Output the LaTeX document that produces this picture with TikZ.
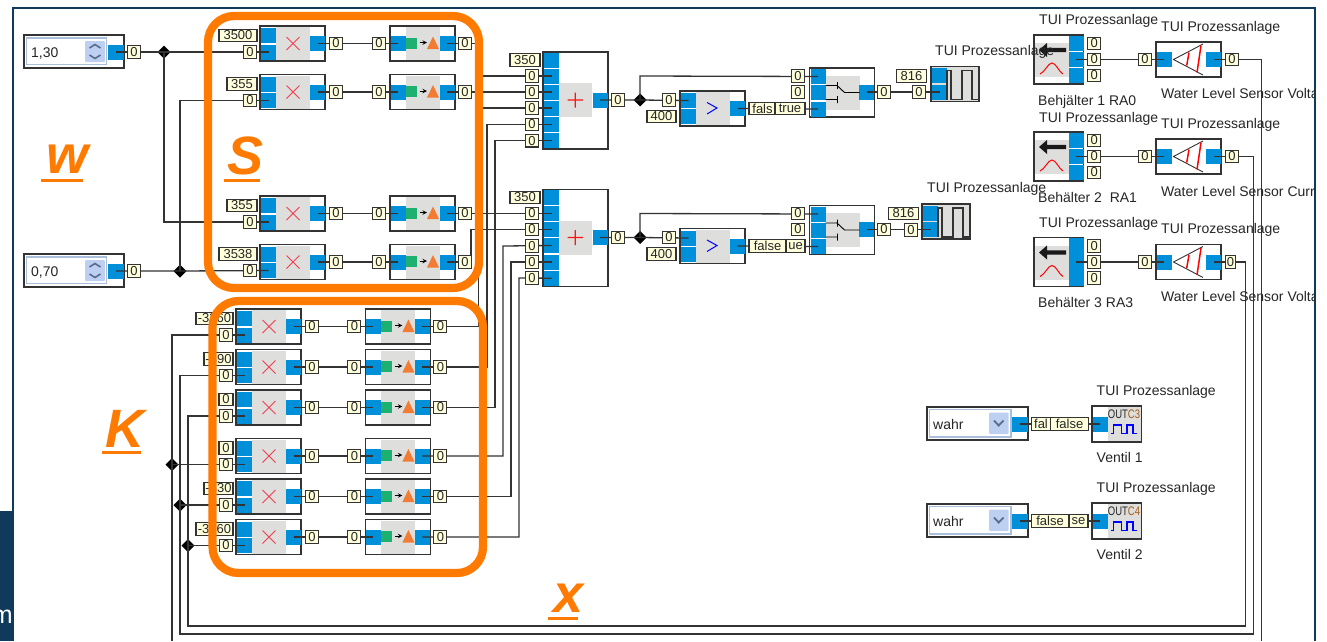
\documentclass[tikz,border=0pt]{standalone}
\usepackage{fontspec}
\setmainfont{Liberation Sans}
\usetikzlibrary{shapes.geometric}
\definecolor{portblue}{HTML}{0090DA}
\definecolor{panel}{HTML}{DEDEDC}
\definecolor{cream}{HTML}{FFFFDC}
\definecolor{inkc}{HTML}{333333}
\definecolor{textc}{HTML}{262626}
\definecolor{framec}{HTML}{0F3A5C}
\definecolor{orangec}{HTML}{FF7A00}
\definecolor{fieldc}{HTML}{A9BFDC}
\definecolor{btnc}{HTML}{BDD0F2}
\definecolor{chevc}{HTML}{5A6C8C}
\definecolor{greenm}{HTML}{1DB071}
\definecolor{trim}{HTML}{F27C34}
\definecolor{redm}{HTML}{F04050}
\definecolor{plusred}{HTML}{FF1414}
\definecolor{brownc}{HTML}{A85A10}
\tikzset{
  wire/.style={draw=inkc,line width=1.3pt},
  boxb/.style={draw=inkc,fill=white,line width=1.3pt,inner sep=0pt,outer sep=0pt,anchor=north west},
  greyb/.style={fill=panel,inner sep=0pt,outer sep=0pt,anchor=north west},
  port/.style={fill=portblue,inner sep=0pt,outer sep=0pt,minimum width=15pt,minimum height=15pt},
  lab/.style={draw=inkc,fill=cream,line width=1.1pt,inner sep=0pt,outer sep=0pt,minimum height=12.5pt,minimum width=13pt,text=textc,font=\fontsize{13}{13}\selectfont},
  captxt/.style={anchor=base west,inner sep=0pt,text=textc,font=\fontsize{14}{16}\selectfont},
  dot/.style={diamond,fill=black,inner sep=0pt,outer sep=0pt,minimum size=13pt},
  grp/.style={draw=orangec,line width=8.2pt,rounded corners=26pt,inner sep=0pt,outer sep=0pt,anchor=north west},
  big/.style={anchor=base west,inner sep=0pt,text=orangec,font=\fontsize{54}{56}\selectfont\bfseries\itshape},
  bar/.style={draw=orangec,line width=3pt},
  sym/.style={draw=redm,line width=1pt}
}
% multiplier
\newcommand{\mulblock}[3]{\begin{scope}[shift={(#2,#3)}]
  \node[boxb,minimum width=65pt,minimum height=35pt] (#1) at (0,0) {};
  \node[greyb,minimum width=34pt,minimum height=33pt] at (16,1) {};
  \node[port] (#1a) at (8.5,9.5) {};
  \node[port] (#1b) at (8.5,26) {};
  \node[port] (#1o) at (57.5,17.5) {};
  \draw[sym] (26.5,11) -- (39.5,24) (26.5,24) -- (39.5,11);
\end{scope}}
\newcommand{\mullabs}[5]{\begin{scope}[shift={(#2,#3)}]
  \node[lab,anchor=east,minimum width=#5pt] (#1av) at (-3,9.5) {#4};
  \node[lab] (#1bv) at (-10,26) {0};
  \node[lab] (#1ov) at (76,17.5) {0};
\end{scope}}
% converter
\newcommand{\convblock}[3]{\begin{scope}[shift={(#2,#3)}]
  \node[boxb,minimum width=65pt,minimum height=35pt] (#1) at (0,0) {};
  \node[greyb,minimum width=34pt,minimum height=33pt] at (16,1) {};
  \node[port] (#1a) at (8,17.5) {};
  \node[port] (#1o) at (57,17.5) {};
  \fill[greenm] (16,11.5) rectangle (26.5,22.5);
  \fill[trim] (37,23) -- (43,10.5) -- (49,23) -- cycle;
  \draw[black,line width=1pt,-stealth] (29.5,16.5) -- (37,16.5);
\end{scope}}
\newcommand{\convlabs}[3]{\begin{scope}[shift={(#2,#3)}]
  \node[lab] (#1iv) at (-11,17.5) {0};
  \node[lab] (#1ov) at (75,17.5) {0};
\end{scope}}
% spinner
\newcommand{\spinner}[4]{\begin{scope}[shift={(#2,#3)}]
  \node[boxb,minimum width=100pt,minimum height=33pt] (#1) at (0,0) {};
  \draw[fieldc,line width=1.3pt,fill=white] (2.5,3) rectangle (82.5,29.5);
  \fill[btnc,rounded corners=1pt] (61,6) rectangle (81,27);
  \draw[chevc,line width=1.6pt] (65.5,13) -- (71,9.5) -- (76.5,13) (65.5,20) -- (71,23.5) -- (76.5,20);
  \node[captxt] at (7,22) {#4};
  \node[port,minimum width=16pt] (#1o) at (92,17) {};
\end{scope}}
% combo box
\newcommand{\combobox}[4]{\begin{scope}[shift={(#2,#3)}]
  \node[boxb,minimum width=101pt,minimum height=33pt] (#1) at (0,0) {};
  \draw[fieldc,line width=1.3pt,fill=white] (2.5,2.5) rectangle (84,30);
  \fill[btnc,rounded corners=1pt] (62,5.5) rectangle (81.5,27);
  \draw[chevc,line width=1.8pt] (67,13.5) -- (71.7,18.5) -- (76.5,13.5);
  \node[captxt] at (6,22) {#4};
  \node[port,minimum width=16pt] (#1o) at (93,17) {};
\end{scope}}
% adder
\newcommand{\adder}[3]{\begin{scope}[shift={(#2,#3)}]
  \node[boxb,minimum width=65pt,minimum height=97pt] (#1) at (0,0) {};
  \node[greyb,minimum width=33pt,minimum height=34pt] at (16,31) {};
  \node[port] (#1p) at (8.5,8) {};
  \node[port] (#1a) at (8.5,24) {};
  \node[port] (#1b) at (8.5,40) {};
  \node[port] (#1c) at (8.5,56) {};
  \node[port] (#1d) at (8.5,72.5) {};
  \node[port] (#1e) at (8.5,88.7) {};
  \node[port] (#1o) at (57,48) {};
  \fill[plusred] (24.5,47.3) rectangle (40,48.7) (31.5,40.5) rectangle (32.9,55.5);
\end{scope}}
% comparator
\newcommand{\cmpblock}[3]{\begin{scope}[shift={(#2,#3)}]
  \node[boxb,minimum width=65pt,minimum height=35pt] (#1) at (0,0) {};
  \node[greyb,minimum width=34pt,minimum height=33pt] at (16,1) {};
  \node[port] (#1a) at (8.5,9.5) {};
  \node[port] (#1b) at (8.5,25.5) {};
  \node[port] (#1o) at (57.5,17.5) {};
  \draw[blue,line width=1pt] (27,11.5) -- (37,17) -- (27,23);
\end{scope}}
% switch
\newcommand{\switchblock}[3]{\begin{scope}[shift={(#2,#3)}]
  \node[boxb,minimum width=65pt,minimum height=49pt] (#1) at (0,0) {};
  \node[greyb,minimum width=34pt,minimum height=34pt] at (16,7.5) {};
  \node[port] (#1a) at (8.5,8.5) {};
  \node[port] (#1b) at (8.5,24.5) {};
  \node[port] (#1c) at (8.5,41) {};
  \node[port] (#1o) at (57,24) {};
  \draw[black,line width=.9pt] (16,17.5) -- (28,17.5) (28,14) -- (28,21)
     (16,31.5) -- (28,31.5) (28,28) -- (28,35)
     (27,17) -- (35,24.5) -- (50,24.5);
\end{scope}}
% pulse display
\newcommand{\pulseblock}[3]{\begin{scope}[shift={(#2,#3)}]
  \node[boxb,fill=panel,minimum width=48pt,minimum height=35pt] (#1) at (0,0) {};
  \node[port] (#1a) at (8.5,9) {};
  \node[port] (#1b) at (8.5,25.5) {};
  \draw[inkc,line width=1.5pt] (16,33) -- (16,4) -- (20,4) -- (20,33) -- (31,33) -- (31,4) -- (41,4) -- (41,33) -- (48,33);
\end{scope}}
% tank input
\newcommand{\tankblock}[3]{\begin{scope}[shift={(#2,#3)}]
  \node[boxb,minimum width=49.5pt,minimum height=49pt] (#1) at (0,0) {};
  \node[greyb,minimum width=34pt,minimum height=34pt] at (1,8) {};
  \node[port,minimum height=15.5pt] (#1a) at (42,8.5) {};
  \node[port,minimum height=15.5pt] (#1b) at (42,24.5) {};
  \node[port,minimum height=15.5pt] (#1c) at (42,40.5) {};
  \fill[black!90] (5,15) -- (13,8) -- (13,12.8) -- (32,12.8) -- (32,17.2) -- (13,17.2) -- (13,22) -- cycle;
  \draw[draw=red,line width=1pt] (6,39) .. controls (11,37) and (14,28) .. (18,28) .. controls (22,28) and (25,37) .. (29,39);
\end{scope}}
% level sensor
\newcommand{\sensorblock}[3]{\begin{scope}[shift={(#2,#3)}]
  \node[boxb,minimum width=65pt,minimum height=35pt] (#1) at (0,0) {};
  \node[port] (#1a) at (8,17.5) {};
  \node[port] (#1o) at (57.5,17.5) {};
  \draw[inkc,line width=.9pt] (47,2) -- (17.5,17.5) -- (47,33);
  \draw[draw=red,line width=1.5pt] (33,10.5) -- (30.7,23.5) (45,3.5) -- (41,30.5);
\end{scope}}
% valve output
\newcommand{\outblock}[4]{\begin{scope}[shift={(#2,#3)}]
  \node[boxb,minimum width=49pt,minimum height=36pt] (#1) at (0,0) {};
  \node[greyb,minimum width=33pt,minimum height=34.5pt] at (15.5,.8) {};
  \node[port,minimum width=15pt] (#1a) at (8.2,18) {};
  \node[anchor=center,inner sep=0pt,font=\fontsize{9.5}{10}\selectfont,text=textc] (#1t) at (32,8) {\scalebox{1}[1.3]{OUT\textcolor{brownc}{#4}}};
  \draw[blue,line width=1.2pt] (18.5,27.5) -- (21.5,27.5) -- (21.5,19) -- (29.5,19) -- (29.5,27.5) -- (35,27.5) -- (35,19) -- (41,19) -- (41,27.5) -- (45,27.5);
\end{scope}}

\begin{document}
\begin{tikzpicture}[x=1pt,y=-1pt]
\useasboundingbox (0,0) rectangle (1327,641);
\fill[white] (0,0) rectangle (1327,641);
% window frame
\draw[framec,line width=1.5pt] (13.2,511) -- (13.2,8) -- (1315,8) -- (1315,641);
\fill[framec] (0,511) rectangle (13.5,641);
\node[anchor=base east,inner sep=0pt,text=white,font=\fontsize{25}{26}\selectfont] (mfrag) at (13,623) {m};

% --- blocks ---
\spinner{spa}{24}{35}{1,30}
\spinner{spb}{24}{254}{0,70}
\foreach \n/\y in {s1/26,s2/74.5,s3/196,s4/244.5} {\mulblock{\n}{260}{\y}}
\foreach \n/\y in {t1/26,t2/74.5,t3/196,t4/244.5} {\convblock{\n}{390}{\y}}
\foreach \n/\y in {k1/309,k2/349.5,k3/390,k4/438.5,k5/479,k6/519.5} {\mulblock{\n}{236}{\y}}
\foreach \n/\y in {g1/309,g2/349.5,g3/390,g4/438.5,g5/479,g6/519.5} {\convblock{\n}{365.4}{\y}}
\adder{ada}{543}{52}
\adder{adb}{543}{189.5}
\cmpblock{cma}{680}{91}
\cmpblock{cmb}{680}{228.5}
\switchblock{swa}{809.5}{68}
\switchblock{swb}{809.5}{205.5}
\pulseblock{pua}{931}{66.5}
\pulseblock{pub}{922}{204}
\tankblock{tka}{1034}{35}
\tankblock{tkb}{1034}{132}
\tankblock{tkc}{1034}{237.5}
\sensorblock{sea}{1156}{42}
\sensorblock{seb}{1156}{139}
\sensorblock{sec}{1156}{244.5}
\combobox{coa}{927}{407}{wahr}
\combobox{cob}{927}{504}{wahr}
\outblock{oua}{1092}{406}{C3}
\outblock{oub}{1092}{503}{C4}

% --- junctions ---
\node[dot] (ja) at (164,52) {};
\node[dot] (jb) at (180,271) {};
\node[dot] (jk4) at (172,464.5) {};
\node[dot] (jk5) at (180,505) {};
\node[dot] (jk6) at (188,545.5) {};
\node[dot] (jc) at (640,100) {};
\node[dot] (jd) at (640,237.5) {};
\coordinate (up1) at (478.6,108);
\coordinate (up2) at (487,124.5);
\coordinate (up3) at (495,140.7);
\coordinate (up4) at (503,246);
\coordinate (up5) at (511,262);
\coordinate (up6) at (519,278);
\coordinate (ups1) at (478.6,76);
\coordinate (ups4) at (471,229.5);
\coordinate (busa) at (172,641);
\coordinate (busb) at (180,634);
\coordinate (busc) at (188,626);
\coordinate (busd) at (1261.7,641);
\coordinate (riseb) at (1253.7,156.5);
\coordinate (risec) at (1245.7,262);
\coordinate (tapa) at (640,76);
\coordinate (tapb) at (640,213.5);

% --- connectors ---
\draw[wire] (spao.center) -- (ja.center) -- (s1b.center);
\draw[wire] (ja.center) |- (s3b.center);
\draw[wire] (spbo.center) -- (jb.center) -- (s4b.center);
\draw[wire] (jb.center) |- (s2b.center);
\foreach \i in {1,2,3,4} {\draw[wire] (s\i o.center) -- (t\i a.center);}
\foreach \i in {1,2,3,4,5,6} {\draw[wire] (k\i o.center) -- (g\i a.center);}
\draw[wire] (t1o.center) -| (ups1) -- (adaa.center);
\draw[wire] (t2o.center) -- (adab.center);
\draw[wire] (g1o.center) -| (up1) -- (adac.center);
\draw[wire] (g2o.center) -| (up2) -- (adad.center);
\draw[wire] (g3o.center) -| (up3) -- (adae.center);
\draw[wire] (t3o.center) -- (adba.center);
\draw[wire] (t4o.center) -| (ups4) -- (adbb.center);
\draw[wire] (g4o.center) -| (up4) -- (adbc.center);
\draw[wire] (g5o.center) -| (up5) -- (adbd.center);
\draw[wire] (g6o.center) -| (up6) -- (adbe.center);
\draw[wire] (adao.center) -- (jc.center) -- (cmaa.center);
\draw[wire] (adbo.center) -- (jd.center) -- (cmba.center);
\draw[wire] (jc.center) -- (tapa) -- (swaa.center);
\draw[wire] (jd.center) -- (tapb) -- (swba.center);
\draw[wire] (cmao.center) -- (swac.center);
\draw[wire] (cmbo.center) -- (swbc.center);
\draw[wire] (swao.center) -- (puab.center);
\draw[wire] (swbo.center) -- (pubb.center);
\draw[wire] (tkab.center) -- (seaa.center);
\draw[wire] (tkbb.center) -- (seba.center);
\draw[wire] (tkcb.center) -- (seca.center);
\draw[wire] (coao.center) -- (ouaa.center);
\draw[wire] (cobo.center) -- (ouba.center);
\draw[wire] (k1b.center) -| (busa);
\draw[wire] (jk4.center) -- (k4b.center);
\draw[wire] (k2b.center) -| (busb) -| (riseb) -- (sebo.center);
\draw[wire] (jk5.center) -- (k5b.center);
\draw[wire] (k3b.center) -| (busc) -| (risec) -- (seco.center);
\draw[wire] (jk6.center) -- (k6b.center);
\draw[wire] (seao.center) -| (busd);

% --- value labels ---
\node[lab] (spav) at (134,52) {0};
\node[lab] (spbv) at (134,271) {0};
\mullabs{s1}{260}{26}{3500}{38}
\mullabs{s2}{260}{74.5}{355}{30}
\mullabs{s3}{260}{196}{355}{30}
\mullabs{s4}{260}{244.5}{3538}{38}
\foreach \n/\y in {t1/26,t2/74.5,t3/196,t4/244.5} {\convlabs{\n}{390}{\y}}
\mullabs{k1}{236}{309}{-3360}{37}
\mullabs{k2}{236}{349.5}{-390}{29}
\mullabs{k3}{236}{390}{0}{14}
\mullabs{k4}{236}{438.5}{0}{14}
\mullabs{k5}{236}{479}{-330}{29}
\mullabs{k6}{236}{519.5}{-3360}{37}
\foreach \n/\y in {g1/309,g2/349.5,g3/390,g4/438.5,g5/479,g6/519.5} {\convlabs{\n}{365.4}{\y}}
% adder A
\node[lab,minimum width=30pt] (adav) at (525,60) {350};
\foreach \n/\y in {a/76,b/92,c/108,d/124.5,e/140.7} {\node[lab] (ada\n v) at (532,\y) {0};}
\node[lab] (adaov) at (618,100) {0};
\node[lab] (cmaav) at (669,100) {0};
\node[lab,minimum width=29pt] (cmabv) at (661.5,116.5) {400};
\node[lab,minimum width=27pt] (cmaov) at (762.5,108.5) {fals};
\node[lab,minimum width=30pt] (swacv) at (790,108.5) {true};
\node[lab] (swaav) at (798,76) {0};
\node[lab] (swabv) at (798,92) {0};
\node[lab] (swaov) at (884,92) {0};
\node[lab,minimum width=30pt] (puaav) at (911.5,76) {816};
\node[lab] (puabv) at (919,92) {0};
% adder B
\node[lab,minimum width=30pt] (adbv) at (525,197.5) {350};
\foreach \n/\y in {a/213.5,b/229.5,c/246,d/262,e/278} {\node[lab] (adb\n v) at (532,\y) {0};}
\node[lab] (adbov) at (618,237.5) {0};
\node[lab] (cmbav) at (669,237.5) {0};
\node[lab,minimum width=29pt] (cmbbv) at (661.5,254) {400};
\node[lab,minimum width=37pt] (cmbov) at (767.5,246) {false};
\node[lab,minimum width=19pt] (swbcv) at (795.5,246) {ue};
\node[lab] (swbav) at (798,213.5) {0};
\node[lab] (swbbv) at (798,229.5) {0};
\node[lab] (swbov) at (884,229.5) {0};
\node[lab,minimum width=30pt] (pubav) at (903.5,213.5) {816};
\node[lab] (pubbv) at (911,230) {0};
% right column
\foreach \t/\y in {tka/35,tkb/132,tkc/237.5} {
  \begin{scope}[shift={(1094.3,\y)}]
    \node[lab] (\t av) at (0,8.5) {0};
    \node[lab] (\t bv) at (0,24.5) {0};
    \node[lab] (\t cv) at (0,40.5) {0};
  \end{scope}}
\node[lab] (seaiv) at (1145,59.5) {0};
\node[lab] (sebiv) at (1145,156.5) {0};
\node[lab] (seciv) at (1145,262) {0};
\node[lab] (seaov) at (1232,59.5) {0};
\node[lab] (sebov) at (1232,156.5) {0};
\node[lab,minimum width=10pt] (secov) at (1230.5,262) {0};
\node[lab,minimum width=19pt] (coav) at (1041,424) {fal};
\node[lab,minimum width=37.5pt] (ouav) at (1069.5,424) {false};
\node[lab,minimum width=37.5pt] (cobv) at (1050,521) {false};
\node[lab,minimum width=19pt] (oubv) at (1078.5,521) {se};

% --- captions ---
\node[captxt] (pca) at (935,55) {TUI Prozessanlage};
\node[captxt] (pcb) at (927,192) {TUI Prozessanlage};
\node[captxt] (tca) at (1039,24) {TUI Prozessanlage};
\node[captxt] (tcb) at (1039,122) {TUI Prozessanlage};
\node[captxt] (tcc) at (1039,227) {TUI Prozessanlage};
\node[captxt] (sca) at (1161,31) {TUI Prozessanlage};
\node[captxt] (scb) at (1161,128) {TUI Prozessanlage};
\node[captxt] (scc) at (1161,233) {TUI Prozessanlage};
\node[captxt] (tna) at (1038,105) {Behjälter 1 RA0};
\node[captxt] (tnb) at (1038,202) {Behälter 2\ \ RA1};
\node[captxt] (tnc) at (1038,307) {Behälter 3 RA3};
\begin{scope}
  \clip (0,0) rectangle (1314.3,641);
  \node[captxt] (sna) at (1161,98) {Water Level Sensor Voltage};
  \node[captxt] (snb) at (1161,196) {Water Level Sensor Current};
  \node[captxt] (snc) at (1161,301) {Water Level Sensor Voltage};
\end{scope}
\node[captxt] (ova) at (1096.5,395) {TUI Prozessanlage};
\node[captxt] (ovb) at (1096.5,492) {TUI Prozessanlage};
\node[captxt] (vna) at (1096.5,462) {Ventil 1};
\node[captxt] (vnb) at (1096.5,559) {Ventil 2};

% --- orange overlay ---
\node[grp,minimum width=271pt,minimum height=272pt] (groupS) at (208,16) {};
\node[grp,minimum width=270.5pt,minimum height=272pt] (groupK) at (212.5,301) {};
\node[big] (lw) at (46,173) {w};
\draw[bar] (41,180) -- (83,180);
\node[big] (ls) at (227,174) {S};
\draw[bar] (224,180) -- (260,180);
\node[big] (lk) at (105,447) {K};
\draw[bar] (102,452) -- (141,452);
\node[big] (lx) at (553.5,612) {x};
\draw[bar] (548,618.5) -- (578,618.5);
\end{tikzpicture}
\end{document}
